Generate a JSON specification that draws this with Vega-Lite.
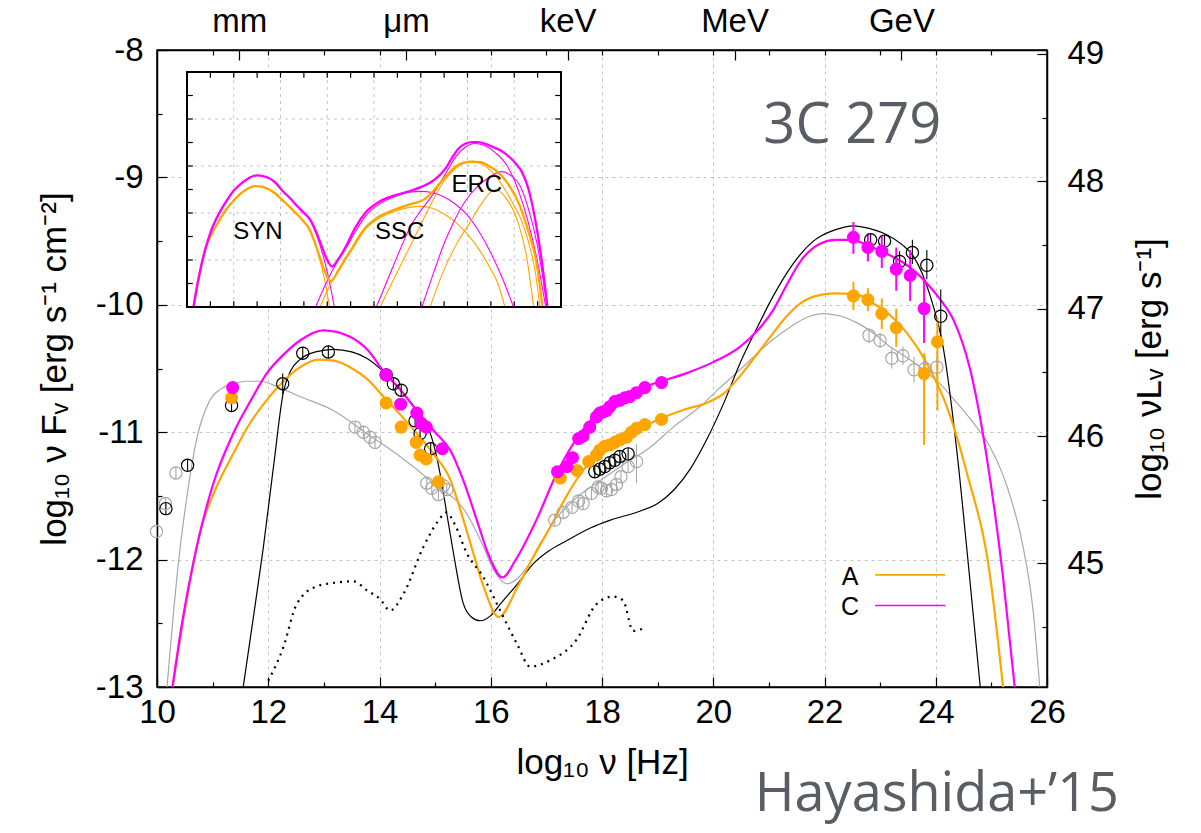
{
  "$schema": "https://vega.github.io/schema/vega-lite/v6.json",
  "width": 890,
  "height": 637,
  "autosize": "none",
  "padding": {"left": 157, "top": 50, "right": 154, "bottom": 146},
  "background": "white",
  "config": {
    "view": {"stroke": "#000", "strokeWidth": 1.5},
    "axis": {
      "labelFont": "Liberation Sans", "labelFontSize": 33, "labelColor": "#000", "labelFlush": false,
      "titleFont": "Liberation Sans", "titleFontSize": 35, "titleFontWeight": "normal", "titleColor": "#000",
      "domainColor": "#000", "domainWidth": 1.5, "tickColor": "#000", "tickWidth": 1.2
    }
  },
  "datasets": {
    "one": [{}],
    "curves": [
      {"model":"low","x":10.18,"y":-13.0},{"model":"low","x":10.3,"y":-12.4},{"model":"low","x":10.41,"y":-11.93},{"model":"low","x":10.53,"y":-11.53},{"model":"low","x":10.71,"y":-11.06},{"model":"low","x":10.95,"y":-10.75},{"model":"low","x":11.15,"y":-10.66},{"model":"low","x":11.37,"y":-10.62},{"model":"low","x":11.6,"y":-10.6},{"model":"low","x":11.85,"y":-10.6},{"model":"low","x":12.2,"y":-10.65},{"model":"low","x":12.57,"y":-10.72},{"model":"low","x":13.17,"y":-10.83},{"model":"low","x":13.77,"y":-11.01},{"model":"low","x":14.37,"y":-11.19},{"model":"low","x":14.97,"y":-11.4},{"model":"low","x":15.57,"y":-11.64},{"model":"low","x":15.87,"y":-11.9},{"model":"low","x":16.05,"y":-12.08},{"model":"low","x":16.29,"y":-12.19},{"model":"low","x":16.5,"y":-12.14},{"model":"low","x":16.77,"y":-11.98},{"model":"low","x":17.1,"y":-11.72},{"model":"low","x":17.5,"y":-11.53},{"model":"low","x":17.97,"y":-11.38},{"model":"low","x":18.4,"y":-11.25},{"model":"low","x":18.86,"y":-11.12},{"model":"low","x":19.28,"y":-10.96},{"model":"low","x":19.76,"y":-10.8},{"model":"low","x":20.1,"y":-10.66},{"model":"low","x":20.48,"y":-10.51},{"model":"low","x":21.08,"y":-10.27},{"model":"low","x":21.4,"y":-10.17},{"model":"low","x":21.68,"y":-10.1},{"model":"low","x":21.98,"y":-10.07},{"model":"low","x":22.3,"y":-10.09},{"model":"low","x":22.58,"y":-10.14},{"model":"low","x":22.9,"y":-10.23},{"model":"low","x":23.18,"y":-10.33},{"model":"low","x":23.5,"y":-10.42},{"model":"low","x":23.78,"y":-10.51},{"model":"low","x":24.1,"y":-10.63},{"model":"low","x":24.38,"y":-10.77},{"model":"low","x":24.7,"y":-10.94},{"model":"low","x":24.97,"y":-11.11},{"model":"low","x":25.3,"y":-11.45},{"model":"low","x":25.57,"y":-11.9},{"model":"low","x":25.75,"y":-12.4},{"model":"low","x":25.87,"y":-13.0},

      {"model":"high","x":11.55,"y":-13.0},{"model":"high","x":11.75,"y":-12.4},{"model":"high","x":11.91,"y":-11.91},{"model":"high","x":12.1,"y":-11.25},{"model":"high","x":12.27,"y":-10.69},{"model":"high","x":12.4,"y":-10.52},{"model":"high","x":12.57,"y":-10.43},{"model":"high","x":12.85,"y":-10.37},{"model":"high","x":13.17,"y":-10.35},{"model":"high","x":13.5,"y":-10.37},{"model":"high","x":13.77,"y":-10.42},{"model":"high","x":14.13,"y":-10.55},{"model":"high","x":14.4,"y":-10.68},{"model":"high","x":14.67,"y":-10.83},{"model":"high","x":14.97,"y":-11.09},{"model":"high","x":15.1,"y":-11.35},{"model":"high","x":15.21,"y":-11.64},{"model":"high","x":15.33,"y":-11.95},{"model":"high","x":15.51,"y":-12.35},{"model":"high","x":15.65,"y":-12.45},{"model":"high","x":15.81,"y":-12.48},{"model":"high","x":16.0,"y":-12.44},{"model":"high","x":16.17,"y":-12.35},{"model":"high","x":16.5,"y":-12.18},{"model":"high","x":16.77,"y":-12.03},{"model":"high","x":17.05,"y":-11.93},{"model":"high","x":17.37,"y":-11.85},{"model":"high","x":17.8,"y":-11.75},{"model":"high","x":18.15,"y":-11.69},{"model":"high","x":18.68,"y":-11.62},{"model":"high","x":19.0,"y":-11.56},{"model":"high","x":19.3,"y":-11.45},{"model":"high","x":19.6,"y":-11.28},{"model":"high","x":19.88,"y":-11.06},{"model":"high","x":20.2,"y":-10.76},{"model":"high","x":20.48,"y":-10.46},{"model":"high","x":20.8,"y":-10.17},{"model":"high","x":21.08,"y":-9.93},{"model":"high","x":21.4,"y":-9.7},{"model":"high","x":21.8,"y":-9.5},{"model":"high","x":22.2,"y":-9.41},{"model":"high","x":22.52,"y":-9.38},{"model":"high","x":22.8,"y":-9.4},{"model":"high","x":23.12,"y":-9.45},{"model":"high","x":23.4,"y":-9.53},{"model":"high","x":23.6,"y":-9.62},{"model":"high","x":23.9,"y":-9.93},{"model":"high","x":24.14,"y":-10.35},{"model":"high","x":24.38,"y":-11.15},{"model":"high","x":24.6,"y":-12.1},{"model":"high","x":24.8,"y":-13.0},

      {"model":"A","x":10.28,"y":-13.0},{"model":"A","x":10.5,"y":-12.4},{"model":"A","x":10.77,"y":-11.79},{"model":"A","x":11.05,"y":-11.45},{"model":"A","x":11.37,"y":-11.17},{"model":"A","x":11.67,"y":-10.93},{"model":"A","x":11.97,"y":-10.75},{"model":"A","x":12.27,"y":-10.6},{"model":"A","x":12.57,"y":-10.49},{"model":"A","x":12.9,"y":-10.43},{"model":"A","x":13.2,"y":-10.44},{"model":"A","x":13.47,"y":-10.49},{"model":"A","x":13.77,"y":-10.58},{"model":"A","x":14.07,"y":-10.72},{"model":"A","x":14.37,"y":-10.86},{"model":"A","x":14.67,"y":-11.01},{"model":"A","x":14.97,"y":-11.17},{"model":"A","x":15.27,"y":-11.37},{"model":"A","x":15.51,"y":-11.69},{"model":"A","x":15.7,"y":-11.97},{"model":"A","x":15.87,"y":-12.21},{"model":"A","x":16.14,"y":-12.45},{"model":"A","x":16.5,"y":-12.2},{"model":"A","x":16.8,"y":-11.95},{"model":"A","x":17.1,"y":-11.72},{"model":"A","x":17.3,"y":-11.55},{"model":"A","x":17.66,"y":-11.3},{"model":"A","x":18.0,"y":-11.15},{"model":"A","x":18.26,"y":-11.06},{"model":"A","x":18.68,"y":-10.97},{"model":"A","x":19.07,"y":-10.89},{"model":"A","x":19.5,"y":-10.82},{"model":"A","x":19.88,"y":-10.77},{"model":"A","x":20.18,"y":-10.7},{"model":"A","x":20.48,"y":-10.56},{"model":"A","x":20.8,"y":-10.38},{"model":"A","x":21.08,"y":-10.22},{"model":"A","x":21.3,"y":-10.1},{"model":"A","x":21.56,"y":-9.99},{"model":"A","x":21.85,"y":-9.93},{"model":"A","x":22.16,"y":-9.91},{"model":"A","x":22.58,"y":-9.92},{"model":"A","x":22.88,"y":-9.99},{"model":"A","x":23.2,"y":-10.09},{"model":"A","x":23.48,"y":-10.22},{"model":"A","x":23.84,"y":-10.46},{"model":"A","x":24.2,"y":-10.8},{"model":"A","x":24.56,"y":-11.32},{"model":"A","x":24.97,"y":-12.11},{"model":"A","x":25.21,"y":-13.0},

      {"model":"C","x":10.28,"y":-13.0},{"model":"C","x":10.45,"y":-12.5},{"model":"C","x":10.71,"y":-11.91},{"model":"C","x":11.0,"y":-11.42},{"model":"C","x":11.37,"y":-11.01},{"model":"C","x":11.7,"y":-10.74},{"model":"C","x":11.97,"y":-10.54},{"model":"C","x":12.3,"y":-10.38},{"model":"C","x":12.57,"y":-10.28},{"model":"C","x":12.99,"y":-10.2},{"model":"C","x":13.47,"y":-10.25},{"model":"C","x":13.8,"y":-10.36},{"model":"C","x":14.07,"y":-10.52},{"model":"C","x":14.4,"y":-10.68},{"model":"C","x":14.67,"y":-10.83},{"model":"C","x":15.0,"y":-11.0},{"model":"C","x":15.27,"y":-11.14},{"model":"C","x":15.5,"y":-11.37},{"model":"C","x":15.75,"y":-11.69},{"model":"C","x":15.95,"y":-11.95},{"model":"C","x":16.21,"y":-12.14},{"model":"C","x":16.45,"y":-12.0},{"model":"C","x":16.82,"y":-11.69},{"model":"C","x":17.19,"y":-11.32},{"model":"C","x":17.66,"y":-10.98},{"model":"C","x":18.26,"y":-10.75},{"model":"C","x":18.86,"y":-10.63},{"model":"C","x":19.5,"y":-10.54},{"model":"C","x":20.0,"y":-10.45},{"model":"C","x":20.48,"y":-10.33},{"model":"C","x":20.8,"y":-10.2},{"model":"C","x":21.08,"y":-10.04},{"model":"C","x":21.3,"y":-9.86},{"model":"C","x":21.6,"y":-9.64},{"model":"C","x":21.92,"y":-9.52},{"model":"C","x":22.2,"y":-9.49},{"model":"C","x":22.46,"y":-9.49},{"model":"C","x":22.82,"y":-9.54},{"model":"C","x":23.12,"y":-9.6},{"model":"C","x":23.42,"y":-9.67},{"model":"C","x":23.84,"y":-9.83},{"model":"C","x":24.1,"y":-9.97},{"model":"C","x":24.32,"y":-10.12},{"model":"C","x":24.62,"y":-10.51},{"model":"C","x":24.9,"y":-11.15},{"model":"C","x":25.21,"y":-12.14},{"model":"C","x":25.42,"y":-13.0},

      {"model":"dot","x":12.0,"y":-12.95},{"model":"dot","x":12.27,"y":-12.69},{"model":"dot","x":12.51,"y":-12.35},{"model":"dot","x":12.87,"y":-12.21},{"model":"dot","x":13.23,"y":-12.18},{"model":"dot","x":13.53,"y":-12.17},{"model":"dot","x":13.77,"y":-12.24},{"model":"dot","x":14.01,"y":-12.31},{"model":"dot","x":14.19,"y":-12.4},{"model":"dot","x":14.43,"y":-12.27},{"model":"dot","x":14.79,"y":-11.9},{"model":"dot","x":15.05,"y":-11.7},{"model":"dot","x":15.2,"y":-11.63},{"model":"dot","x":15.35,"y":-11.72},{"model":"dot","x":15.57,"y":-11.95},{"model":"dot","x":15.87,"y":-12.14},{"model":"dot","x":16.17,"y":-12.4},{"model":"dot","x":16.47,"y":-12.66},{"model":"dot","x":16.71,"y":-12.84},{"model":"dot","x":17.07,"y":-12.79},{"model":"dot","x":17.54,"y":-12.63},{"model":"dot","x":17.9,"y":-12.35},{"model":"dot","x":18.2,"y":-12.29},{"model":"dot","x":18.38,"y":-12.32},{"model":"dot","x":18.56,"y":-12.56},{"model":"dot","x":18.8,"y":-12.53}
    ],
    "comps": [
      {"comp":"SYN_A","model":"A","x":10.28,"y":-13.0},{"comp":"SYN_A","model":"A","x":10.5,"y":-12.4},{"comp":"SYN_A","model":"A","x":10.77,"y":-11.79},{"comp":"SYN_A","model":"A","x":11.05,"y":-11.45},{"comp":"SYN_A","model":"A","x":11.37,"y":-11.17},{"comp":"SYN_A","model":"A","x":11.97,"y":-10.75},{"comp":"SYN_A","model":"A","x":12.57,"y":-10.49},{"comp":"SYN_A","model":"A","x":12.9,"y":-10.43},{"comp":"SYN_A","model":"A","x":13.47,"y":-10.49},{"comp":"SYN_A","model":"A","x":14.07,"y":-10.72},{"comp":"SYN_A","model":"A","x":14.67,"y":-11.01},{"comp":"SYN_A","model":"A","x":15.27,"y":-11.4},{"comp":"SYN_A","model":"A","x":15.6,"y":-11.85},{"comp":"SYN_A","model":"A","x":15.9,"y":-12.45},{"comp":"SYN_A","model":"A","x":16.1,"y":-13.0},
      {"comp":"SYN_C","model":"C","x":10.28,"y":-13.0},{"comp":"SYN_C","model":"C","x":10.45,"y":-12.5},{"comp":"SYN_C","model":"C","x":10.71,"y":-11.91},{"comp":"SYN_C","model":"C","x":11.0,"y":-11.42},{"comp":"SYN_C","model":"C","x":11.37,"y":-11.01},{"comp":"SYN_C","model":"C","x":11.97,"y":-10.54},{"comp":"SYN_C","model":"C","x":12.57,"y":-10.28},{"comp":"SYN_C","model":"C","x":12.99,"y":-10.2},{"comp":"SYN_C","model":"C","x":13.47,"y":-10.25},{"comp":"SYN_C","model":"C","x":14.07,"y":-10.52},{"comp":"SYN_C","model":"C","x":14.67,"y":-10.83},{"comp":"SYN_C","model":"C","x":15.27,"y":-11.16},{"comp":"SYN_C","model":"C","x":15.6,"y":-11.55},{"comp":"SYN_C","model":"C","x":15.9,"y":-12.05},{"comp":"SYN_C","model":"C","x":16.15,"y":-12.6},{"comp":"SYN_C","model":"C","x":16.3,"y":-13.0},
      {"comp":"SSC_A","model":"A","x":15.7,"y":-13.0},{"comp":"SSC_A","model":"A","x":16.1,"y":-12.55},{"comp":"SSC_A","model":"A","x":16.5,"y":-12.22},{"comp":"SSC_A","model":"A","x":17.1,"y":-11.75},{"comp":"SSC_A","model":"A","x":17.66,"y":-11.33},{"comp":"SSC_A","model":"A","x":18.26,"y":-11.1},{"comp":"SSC_A","model":"A","x":18.9,"y":-10.96},{"comp":"SSC_A","model":"A","x":19.5,"y":-10.88},{"comp":"SSC_A","model":"A","x":20.0,"y":-10.86},{"comp":"SSC_A","model":"A","x":20.5,"y":-10.9},{"comp":"SSC_A","model":"A","x":21.0,"y":-11.02},{"comp":"SSC_A","model":"A","x":21.5,"y":-11.2},{"comp":"SSC_A","model":"A","x":22.0,"y":-11.45},{"comp":"SSC_A","model":"A","x":22.5,"y":-11.78},{"comp":"SSC_A","model":"A","x":23.0,"y":-12.2},{"comp":"SSC_A","model":"A","x":23.3,"y":-12.5},{"comp":"SSC_A","model":"A","x":23.6,"y":-13.0},
      {"comp":"SSC_C","model":"C","x":15.5,"y":-13.0},{"comp":"SSC_C","model":"C","x":15.9,"y":-12.55},{"comp":"SSC_C","model":"C","x":16.3,"y":-12.15},{"comp":"SSC_C","model":"C","x":16.8,"y":-11.75},{"comp":"SSC_C","model":"C","x":17.2,"y":-11.4},{"comp":"SSC_C","model":"C","x":17.66,"y":-11.05},{"comp":"SSC_C","model":"C","x":18.26,"y":-10.8},{"comp":"SSC_C","model":"C","x":18.9,"y":-10.65},{"comp":"SSC_C","model":"C","x":19.5,"y":-10.56},{"comp":"SSC_C","model":"C","x":20.0,"y":-10.54},{"comp":"SSC_C","model":"C","x":20.5,"y":-10.57},{"comp":"SSC_C","model":"C","x":21.0,"y":-10.66},{"comp":"SSC_C","model":"C","x":21.5,"y":-10.82},{"comp":"SSC_C","model":"C","x":22.0,"y":-11.05},{"comp":"SSC_C","model":"C","x":22.5,"y":-11.4},{"comp":"SSC_C","model":"C","x":23.0,"y":-11.85},{"comp":"SSC_C","model":"C","x":23.5,"y":-12.4},{"comp":"SSC_C","model":"C","x":23.97,"y":-13.0},
      {"comp":"ERC1_A","model":"A","x":18.26,"y":-13.0},{"comp":"ERC1_A","model":"A","x":18.8,"y":-12.45},{"comp":"ERC1_A","model":"A","x":19.3,"y":-11.95},{"comp":"ERC1_A","model":"A","x":19.9,"y":-11.35},{"comp":"ERC1_A","model":"A","x":20.5,"y":-10.75},{"comp":"ERC1_A","model":"A","x":21.0,"y":-10.32},{"comp":"ERC1_A","model":"A","x":21.5,"y":-10.05},{"comp":"ERC1_A","model":"A","x":22.19,"y":-9.9},{"comp":"ERC1_A","model":"A","x":22.6,"y":-9.95},{"comp":"ERC1_A","model":"A","x":23.1,"y":-10.15},{"comp":"ERC1_A","model":"A","x":23.6,"y":-10.5},{"comp":"ERC1_A","model":"A","x":24.0,"y":-10.85},{"comp":"ERC1_A","model":"A","x":24.3,"y":-11.15},{"comp":"ERC1_A","model":"A","x":24.6,"y":-11.6},{"comp":"ERC1_A","model":"A","x":24.9,"y":-12.25},{"comp":"ERC1_A","model":"A","x":25.1,"y":-13.0},
      {"comp":"ERC2_A","model":"A","x":20.4,"y":-13.0},{"comp":"ERC2_A","model":"A","x":21.0,"y":-12.2},{"comp":"ERC2_A","model":"A","x":21.6,"y":-11.6},{"comp":"ERC2_A","model":"A","x":22.11,"y":-11.2},{"comp":"ERC2_A","model":"A","x":22.6,"y":-10.8},{"comp":"ERC2_A","model":"A","x":23.18,"y":-10.5},{"comp":"ERC2_A","model":"A","x":23.6,"y":-10.65},{"comp":"ERC2_A","model":"A","x":24.12,"y":-11.14},{"comp":"ERC2_A","model":"A","x":24.5,"y":-11.85},{"comp":"ERC2_A","model":"A","x":24.83,"y":-13.0},
      {"comp":"ERC1_C","model":"C","x":18.1,"y":-13.0},{"comp":"ERC1_C","model":"C","x":18.6,"y":-12.4},{"comp":"ERC1_C","model":"C","x":19.1,"y":-11.8},{"comp":"ERC1_C","model":"C","x":19.6,"y":-11.25},{"comp":"ERC1_C","model":"C","x":20.0,"y":-10.95},{"comp":"ERC1_C","model":"C","x":20.5,"y":-10.62},{"comp":"ERC1_C","model":"C","x":21.08,"y":-10.15},{"comp":"ERC1_C","model":"C","x":21.5,"y":-9.8},{"comp":"ERC1_C","model":"C","x":21.9,"y":-9.6},{"comp":"ERC1_C","model":"C","x":22.3,"y":-9.52},{"comp":"ERC1_C","model":"C","x":22.7,"y":-9.56},{"comp":"ERC1_C","model":"C","x":23.2,"y":-9.72},{"comp":"ERC1_C","model":"C","x":23.7,"y":-10.0},{"comp":"ERC1_C","model":"C","x":24.2,"y":-10.55},{"comp":"ERC1_C","model":"C","x":24.6,"y":-11.2},{"comp":"ERC1_C","model":"C","x":25.0,"y":-12.05},{"comp":"ERC1_C","model":"C","x":25.35,"y":-13.0},
      {"comp":"ERC2_C","model":"C","x":20.05,"y":-13.0},{"comp":"ERC2_C","model":"C","x":20.6,"y":-12.2},{"comp":"ERC2_C","model":"C","x":21.0,"y":-11.65},{"comp":"ERC2_C","model":"C","x":21.4,"y":-11.2},{"comp":"ERC2_C","model":"C","x":21.9,"y":-10.75},{"comp":"ERC2_C","model":"C","x":22.4,"y":-10.45},{"comp":"ERC2_C","model":"C","x":22.9,"y":-10.25},{"comp":"ERC2_C","model":"C","x":23.47,"y":-10.12},{"comp":"ERC2_C","model":"C","x":23.9,"y":-10.22},{"comp":"ERC2_C","model":"C","x":24.26,"y":-10.43},{"comp":"ERC2_C","model":"C","x":24.6,"y":-10.9},{"comp":"ERC2_C","model":"C","x":24.97,"y":-11.64},{"comp":"ERC2_C","model":"C","x":25.2,"y":-12.3},{"comp":"ERC2_C","model":"C","x":25.4,"y":-13.0}
    ],
    "pts": [
      {"set":"low","x":9.99,"y":-11.78,"lo":-11.83,"hi":-11.73},{"set":"low","x":10.15,"y":-11.56,"lo":-11.61,"hi":-11.51},{"set":"low","x":10.34,"y":-11.32,"lo":-11.37,"hi":-11.27},
      {"set":"low","x":13.56,"y":-10.96,"lo":-11.01,"hi":-10.91},{"set":"low","x":13.71,"y":-11.0,"lo":-11.05,"hi":-10.95},{"set":"low","x":13.83,"y":-11.04,"lo":-11.09,"hi":-10.99},{"set":"low","x":13.92,"y":-11.08,"lo":-11.13,"hi":-11.03},
      {"set":"low","x":14.85,"y":-11.4,"lo":-11.45,"hi":-11.35},{"set":"low","x":14.94,"y":-11.44,"lo":-11.49,"hi":-11.39},{"set":"low","x":15.06,"y":-11.49,"lo":-11.54,"hi":-11.44},{"set":"low","x":15.15,"y":-11.42,"lo":-11.47,"hi":-11.37},{"set":"low","x":15.21,"y":-11.45,"lo":-11.5,"hi":-11.4},
      {"set":"low","x":17.15,"y":-11.69,"lo":-11.74,"hi":-11.64},{"set":"low","x":17.3,"y":-11.63,"lo":-11.68,"hi":-11.58},{"set":"low","x":17.46,"y":-11.59,"lo":-11.64,"hi":-11.54},{"set":"low","x":17.58,"y":-11.54,"lo":-11.59,"hi":-11.49},{"set":"low","x":17.66,"y":-11.56,"lo":-11.61,"hi":-11.51},{"set":"low","x":17.81,"y":-11.48,"lo":-11.53,"hi":-11.43},{"set":"low","x":17.93,"y":-11.43,"lo":-11.48,"hi":-11.38},{"set":"low","x":17.99,"y":-11.44,"lo":-11.49,"hi":-11.39},{"set":"low","x":18.08,"y":-11.46,"lo":-11.51,"hi":-11.41},{"set":"low","x":18.17,"y":-11.45,"lo":-11.5,"hi":-11.4},{"set":"low","x":18.26,"y":-11.41,"lo":-11.46,"hi":-11.36},{"set":"low","x":18.34,"y":-11.35,"lo":-11.4,"hi":-11.3},{"set":"low","x":18.47,"y":-11.27,"lo":-11.32,"hi":-11.22},{"set":"low","x":18.62,"y":-11.23,"lo":-11.4,"hi":-11.09},
      {"set":"low","x":22.8,"y":-10.24,"lo":-10.3,"hi":-10.18},{"set":"low","x":23.0,"y":-10.28,"lo":-10.34,"hi":-10.22},{"set":"low","x":23.21,"y":-10.42,"lo":-10.5,"hi":-10.34},{"set":"low","x":23.41,"y":-10.4,"lo":-10.47,"hi":-10.33},{"set":"low","x":23.61,"y":-10.51,"lo":-10.61,"hi":-10.41},{"set":"low","x":23.81,"y":-10.5,"lo":-10.6,"hi":-10.4},{"set":"low","x":24.02,"y":-10.49,"lo":-10.58,"hi":-10.4},

      {"set":"high","x":10.16,"y":-11.6,"lo":-11.65,"hi":-11.55},{"set":"high","x":10.55,"y":-11.26,"lo":-11.31,"hi":-11.21},{"set":"high","x":11.34,"y":-10.79,"lo":-10.84,"hi":-10.74},{"set":"high","x":12.26,"y":-10.62,"lo":-10.7,"hi":-10.54},{"set":"high","x":12.62,"y":-10.38,"lo":-10.43,"hi":-10.33},{"set":"high","x":13.08,"y":-10.37,"lo":-10.42,"hi":-10.32},
      {"set":"high","x":14.12,"y":-10.55,"lo":-10.6,"hi":-10.5},{"set":"high","x":14.25,"y":-10.62,"lo":-10.67,"hi":-10.57},{"set":"high","x":14.39,"y":-10.67,"lo":-10.72,"hi":-10.62},{"set":"high","x":14.64,"y":-10.91,"lo":-10.96,"hi":-10.86},{"set":"high","x":14.73,"y":-11.01,"lo":-11.06,"hi":-10.96},{"set":"high","x":14.92,"y":-11.13,"lo":-11.18,"hi":-11.08},
      {"set":"high","x":17.87,"y":-11.31,"lo":-11.36,"hi":-11.26},{"set":"high","x":17.96,"y":-11.29,"lo":-11.34,"hi":-11.24},{"set":"high","x":18.05,"y":-11.27,"lo":-11.32,"hi":-11.22},{"set":"high","x":18.14,"y":-11.24,"lo":-11.29,"hi":-11.19},{"set":"high","x":18.23,"y":-11.22,"lo":-11.27,"hi":-11.17},{"set":"high","x":18.32,"y":-11.19,"lo":-11.24,"hi":-11.14},{"set":"high","x":18.47,"y":-11.17,"lo":-11.22,"hi":-11.12},
      {"set":"high","x":22.83,"y":-9.49,"lo":-9.54,"hi":-9.44},{"set":"high","x":23.08,"y":-9.5,"lo":-9.55,"hi":-9.45},{"set":"high","x":23.35,"y":-9.66,"lo":-9.73,"hi":-9.58},{"set":"high","x":23.58,"y":-9.59,"lo":-9.68,"hi":-9.49},{"set":"high","x":23.84,"y":-9.69,"lo":-9.8,"hi":-9.57},{"set":"high","x":24.09,"y":-10.09,"lo":-10.3,"hi":-9.88},

      {"set":"A","x":11.34,"y":-10.73,"lo":-10.73,"hi":-10.73},{"set":"A","x":14.12,"y":-10.77,"lo":-10.77,"hi":-10.77},{"set":"A","x":14.39,"y":-10.96,"lo":-10.96,"hi":-10.96},{"set":"A","x":14.66,"y":-11.08,"lo":-11.08,"hi":-11.08},{"set":"A","x":14.73,"y":-11.18,"lo":-11.18,"hi":-11.18},{"set":"A","x":14.84,"y":-11.21,"lo":-11.21,"hi":-11.21},{"set":"A","x":15.06,"y":-11.39,"lo":-11.39,"hi":-11.39},
      {"set":"A","x":17.25,"y":-11.36,"lo":-11.36,"hi":-11.36},{"set":"A","x":17.55,"y":-11.3,"lo":-11.3,"hi":-11.3},{"set":"A","x":17.76,"y":-11.23,"lo":-11.23,"hi":-11.23},{"set":"A","x":17.9,"y":-11.18,"lo":-11.18,"hi":-11.18},{"set":"A","x":17.96,"y":-11.14,"lo":-11.14,"hi":-11.14},{"set":"A","x":18.05,"y":-11.11,"lo":-11.11,"hi":-11.11},{"set":"A","x":18.14,"y":-11.1,"lo":-11.1,"hi":-11.1},{"set":"A","x":18.23,"y":-11.08,"lo":-11.08,"hi":-11.08},{"set":"A","x":18.32,"y":-11.06,"lo":-11.06,"hi":-11.06},{"set":"A","x":18.44,"y":-11.04,"lo":-11.04,"hi":-11.04},{"set":"A","x":18.53,"y":-11.0,"lo":-11.0,"hi":-11.0},{"set":"A","x":18.62,"y":-10.97,"lo":-10.97,"hi":-10.97},{"set":"A","x":18.77,"y":-10.94,"lo":-10.94,"hi":-10.94},{"set":"A","x":19.07,"y":-10.9,"lo":-10.9,"hi":-10.9},
      {"set":"A","x":22.52,"y":-9.93,"lo":-10.04,"hi":-9.82},{"set":"A","x":22.78,"y":-9.96,"lo":-10.05,"hi":-9.87},{"set":"A","x":23.03,"y":-10.07,"lo":-10.19,"hi":-9.95},{"set":"A","x":23.29,"y":-10.18,"lo":-10.33,"hi":-10.03},{"set":"A","x":23.79,"y":-10.54,"lo":-11.1,"hi":-10.38},{"set":"A","x":24.03,"y":-10.29,"lo":-10.83,"hi":-10.1},

      {"set":"C","x":11.36,"y":-10.65,"lo":-10.65,"hi":-10.65},{"set":"C","x":14.12,"y":-10.55,"lo":-10.55,"hi":-10.55},{"set":"C","x":14.38,"y":-10.78,"lo":-10.78,"hi":-10.78},{"set":"C","x":14.67,"y":-10.85,"lo":-10.85,"hi":-10.85},{"set":"C","x":14.75,"y":-10.93,"lo":-10.93,"hi":-10.93},{"set":"C","x":14.84,"y":-10.96,"lo":-10.96,"hi":-10.96},{"set":"C","x":15.13,"y":-11.13,"lo":-11.13,"hi":-11.13},
      {"set":"C","x":17.2,"y":-11.31,"lo":-11.31,"hi":-11.31},{"set":"C","x":17.37,"y":-11.27,"lo":-11.27,"hi":-11.27},{"set":"C","x":17.47,"y":-11.2,"lo":-11.2,"hi":-11.2},{"set":"C","x":17.58,"y":-11.05,"lo":-11.05,"hi":-11.05},{"set":"C","x":17.66,"y":-11.03,"lo":-11.03,"hi":-11.03},{"set":"C","x":17.78,"y":-10.96,"lo":-10.96,"hi":-10.96},{"set":"C","x":17.9,"y":-10.88,"lo":-10.88,"hi":-10.88},{"set":"C","x":17.96,"y":-10.85,"lo":-10.85,"hi":-10.85},{"set":"C","x":18.02,"y":-10.84,"lo":-10.84,"hi":-10.84},{"set":"C","x":18.08,"y":-10.83,"lo":-10.83,"hi":-10.83},{"set":"C","x":18.14,"y":-10.8,"lo":-10.8,"hi":-10.8},{"set":"C","x":18.23,"y":-10.76,"lo":-10.76,"hi":-10.76},{"set":"C","x":18.32,"y":-10.75,"lo":-10.75,"hi":-10.75},{"set":"C","x":18.41,"y":-10.73,"lo":-10.73,"hi":-10.73},{"set":"C","x":18.5,"y":-10.72,"lo":-10.72,"hi":-10.72},{"set":"C","x":18.62,"y":-10.69,"lo":-10.69,"hi":-10.69},{"set":"C","x":18.77,"y":-10.65,"lo":-10.65,"hi":-10.65},{"set":"C","x":19.07,"y":-10.61,"lo":-10.61,"hi":-10.61},
      {"set":"C","x":22.52,"y":-9.47,"lo":-9.6,"hi":-9.35},{"set":"C","x":22.78,"y":-9.55,"lo":-9.66,"hi":-9.44},{"set":"C","x":23.03,"y":-9.58,"lo":-9.71,"hi":-9.45},{"set":"C","x":23.29,"y":-9.72,"lo":-9.89,"hi":-9.55},{"set":"C","x":23.54,"y":-9.77,"lo":-9.97,"hi":-9.57},{"set":"C","x":23.79,"y":-10.03,"lo":-10.3,"hi":-9.79}
    ],
    "gridX": [{"v":12},{"v":14},{"v":16},{"v":18},{"v":20},{"v":22},{"v":24}],
    "gridY": [{"v":-12},{"v":-11},{"v":-10},{"v":-9}],
    "tickX": [{"v":11},{"v":12},{"v":13},{"v":14},{"v":15},{"v":16},{"v":17},{"v":18},{"v":19},{"v":20},{"v":21},{"v":22},{"v":23},{"v":24},{"v":25}],
    "tickY": [{"v":-12.5},{"v":-12},{"v":-11.5},{"v":-11},{"v":-10.5},{"v":-10},{"v":-9.5},{"v":-9},{"v":-8.5}],
    "labels": [{"label":"SYN","x":13.03,"y":-11.4},{"label":"SSC","x":19.1,"y":-11.4},{"label":"ERC","x":22.4,"y":-10.41}]
  },
  "layer": [
    {
      "resolve": {"axis": {"x": "independent", "y": "independent"}},
      "layer": [
        {
          "data": {"name": "curves"},
          "transform": [{"filter": "datum.model == 'low' || datum.model == 'high'"}],
          "mark": {"type": "line", "strokeWidth": 1.2, "clip": true, "interpolate": "monotone"},
          "encoding": {
            "x": {"field": "x", "type": "quantitative", "scale": {"domain": [10, 26], "nice": false, "zero": false},
              "axis": {"orient": "bottom", "values": [10,12,14,16,18,20,22,24,26], "tickSize": -10, "labelPadding": 19,
                "grid": true, "gridDash": [3,4], "gridColor": "#c4c4c4", "gridWidth": 1,
                "gridOpacity": {"condition": {"test": "datum.value <= 10 || datum.value >= 26", "value": 0}, "value": 1},
                "title": "log₁₀ ν [Hz]", "titlePadding": 16}},
            "y": {"field": "y", "type": "quantitative", "scale": {"domain": [-13, -8], "nice": false, "zero": false},
              "axis": {"orient": "left", "values": [-13,-12,-11,-10,-9,-8], "tickSize": -10, "labelPadding": 24,
                "labelExpr": "'-' + abs(datum.value)",
                "grid": true, "gridDash": [3,4], "gridColor": "#c4c4c4", "gridWidth": 1,
                "gridOpacity": {"condition": {"test": "datum.value <= -13 || datum.value >= -8", "value": 0}, "value": 1},
                "title": "log₁₀ ν  Fᵥ  [erg  s⁻¹  cm⁻²]", "titlePadding": 23}},
            "color": {"field": "model", "type": "nominal", "scale": {"domain": ["low","high","A","C","dot"], "range": ["#a8a8a8","#000000","#ffa500","#ff00ff","#000000"]}, "legend": null}
          }
        },
        {
          "data": {"name": "curves"},
          "transform": [{"filter": "datum.model == 'A' || datum.model == 'C'"}],
          "mark": {"type": "line", "strokeWidth": 2.2, "clip": true, "interpolate": "monotone"},
          "encoding": {
            "x": {"field": "x", "type": "quantitative", "scale": {"domain": [10, 26], "nice": false, "zero": false},
              "axis": {"orient": "top", "values": [11.477,14.477,17.383,20.383,23.383], "tickSize": -10, "labelPadding": 22, "grid": false, "domain": true,
                "labelExpr": "datum.value < 13 ? 'mm' : datum.value < 16 ? 'μm' : datum.value < 19 ? 'keV' : datum.value < 22 ? 'MeV' : 'GeV'", "title": null}},
            "y": {"field": "y", "type": "quantitative", "scale": {"domain": [-13, -8], "nice": false, "zero": false},
              "axis": {"orient": "right", "values": [-8.03,-9.03,-10.03,-11.03,-12.03], "tickSize": -10, "labelPadding": 30, "grid": false,
                "labelExpr": "format(datum.value + 57.03, '.0f')", "title": "log₁₀ νLᵥ [erg s⁻¹]", "titleAngle": 270, "titlePadding": 64}},
            "color": {"field": "model", "type": "nominal", "scale": {"domain": ["low","high","A","C","dot"], "range": ["#a8a8a8","#000000","#ffa500","#ff00ff","#000000"]}, "legend": null}
          }
        },
        {
          "data": {"name": "curves"},
          "transform": [{"filter": "datum.model == 'dot'"}],
          "mark": {"type": "line", "strokeWidth": 2.2, "strokeDash": [2, 5], "color": "#000", "clip": true, "interpolate": "monotone"},
          "encoding": {
            "x": {"field": "x", "type": "quantitative", "scale": {"domain": [10, 26], "nice": false, "zero": false},
              "axis": {"orient": "bottom", "values": [11,13,15,17,19,21,23,25], "tickSize": -5, "labels": false, "domain": false, "grid": false, "title": null}},
            "y": {"field": "y", "type": "quantitative", "scale": {"domain": [-13, -8], "nice": false, "zero": false},
              "axis": {"orient": "left", "values": [-12.5,-11.5,-10.5,-9.5,-8.5], "tickSize": -5, "labels": false, "domain": false, "grid": false, "title": null}}
          }
        },
        {
          "data": {"name": "pts"},
          "transform": [{"filter": "datum.set == 'low' || datum.set == 'high'"}],
          "mark": {"type": "rule", "strokeWidth": 1.1},
          "encoding": {
            "x": {"field": "x", "type": "quantitative", "scale": {"domain": [10, 26], "nice": false, "zero": false},
              "axis": {"orient": "top", "values": [11,12,13,14,15,16,17,18,19,20,21,22,23,24,25], "tickSize": -5, "labels": false, "domain": false, "grid": false, "title": null}},
            "y": {"field": "lo", "type": "quantitative", "scale": {"domain": [-13, -8], "nice": false, "zero": false},
              "axis": {"orient": "right", "values": [-8.53,-9.53,-10.53,-11.53,-12.53], "tickSize": -5, "labels": false, "domain": false, "grid": false, "title": null}},
            "y2": {"field": "hi"},
            "color": {"field": "set", "type": "nominal", "scale": {"domain": ["low","high","A","C","dot"], "range": ["#a8a8a8","#000000","#ffa500","#ff00ff","#000000"]}, "legend": null}
          }
        },
        {
          "data": {"name": "pts"},
          "transform": [{"filter": "datum.set == 'A' || datum.set == 'C'"}],
          "mark": {"type": "rule", "strokeWidth": 2},
          "encoding": {
            "x": {"field": "x", "type": "quantitative", "scale": {"domain": [10, 26], "nice": false, "zero": false}, "axis": null},
            "y": {"field": "lo", "type": "quantitative", "scale": {"domain": [-13, -8], "nice": false, "zero": false}, "axis": null},
            "y2": {"field": "hi"},
            "color": {"field": "set", "type": "nominal", "scale": {"domain": ["low","high","A","C","dot"], "range": ["#a8a8a8","#000000","#ffa500","#ff00ff","#000000"]}, "legend": null}
          }
        },
        {
          "data": {"name": "pts"},
          "transform": [{"filter": "datum.set == 'low' || datum.set == 'high'"}],
          "mark": {"type": "point", "filled": false, "size": 150, "strokeWidth": 1.2, "opacity": 1},
          "encoding": {
            "x": {"field": "x", "type": "quantitative", "scale": {"domain": [10, 26], "nice": false, "zero": false}, "axis": null},
            "y": {"field": "y", "type": "quantitative", "scale": {"domain": [-13, -8], "nice": false, "zero": false}, "axis": null},
            "color": {"field": "set", "type": "nominal", "scale": {"domain": ["low","high","A","C","dot"], "range": ["#a8a8a8","#000000","#ffa500","#ff00ff","#000000"]}, "legend": null}
          }
        },
        {
          "data": {"name": "pts"},
          "transform": [{"filter": "datum.set == 'A' || datum.set == 'C'"}],
          "mark": {"type": "circle", "size": 170, "opacity": 1},
          "encoding": {
            "x": {"field": "x", "type": "quantitative", "scale": {"domain": [10, 26], "nice": false, "zero": false}, "axis": null},
            "y": {"field": "y", "type": "quantitative", "scale": {"domain": [-13, -8], "nice": false, "zero": false}, "axis": null},
            "color": {"field": "set", "type": "nominal", "scale": {"domain": ["low","high","A","C","dot"], "range": ["#a8a8a8","#000000","#ffa500","#ff00ff","#000000"]}, "legend": null}
          }
        },
        {
          "data": {"name": "one"},
          "mark": {"type": "text", "text": "A", "font": "Liberation Sans", "fontSize": 25, "color": "#000", "align": "center", "baseline": "middle"},
          "encoding": {
            "x": {"datum": 22.46, "type": "quantitative", "scale": {"domain": [10, 26], "nice": false, "zero": false}, "axis": null},
            "y": {"datum": -12.14, "type": "quantitative", "scale": {"domain": [-13, -8], "nice": false, "zero": false}, "axis": null}
          }
        },
        {
          "data": {"name": "one"},
          "mark": {"type": "text", "text": "C", "font": "Liberation Sans", "fontSize": 25, "color": "#000", "align": "center", "baseline": "middle"},
          "encoding": {
            "x": {"datum": 22.46, "type": "quantitative", "scale": {"domain": [10, 26], "nice": false, "zero": false}, "axis": null},
            "y": {"datum": -12.37, "type": "quantitative", "scale": {"domain": [-13, -8], "nice": false, "zero": false}, "axis": null}
          }
        },
        {
          "data": {"name": "one"},
          "mark": {"type": "rule", "color": "#ffa500", "strokeWidth": 1.6},
          "encoding": {
            "x": {"datum": 22.91, "type": "quantitative", "scale": {"domain": [10, 26], "nice": false, "zero": false}, "axis": null},
            "x2": {"datum": 24.17},
            "y": {"datum": -12.12, "type": "quantitative", "scale": {"domain": [-13, -8], "nice": false, "zero": false}, "axis": null}
          }
        },
        {
          "data": {"name": "one"},
          "mark": {"type": "rule", "color": "#ff00ff", "strokeWidth": 1.6},
          "encoding": {
            "x": {"datum": 22.91, "type": "quantitative", "scale": {"domain": [10, 26], "nice": false, "zero": false}, "axis": null},
            "x2": {"datum": 24.17},
            "y": {"datum": -12.36, "type": "quantitative", "scale": {"domain": [-13, -8], "nice": false, "zero": false}, "axis": null}
          }
        },
        {
          "data": {"name": "one"},
          "mark": {"type": "text", "text": "3C 279", "font": "Open Sans", "fontSize": 56, "color": "#595e64", "align": "center", "baseline": "middle"},
          "encoding": {
            "x": {"datum": 22.5, "type": "quantitative", "scale": {"domain": [10, 26], "nice": false, "zero": false}, "axis": null},
            "y": {"datum": -8.6, "type": "quantitative", "scale": {"domain": [-13, -8], "nice": false, "zero": false}, "axis": null}
          }
        },
        {
          "data": {"name": "one"},
          "mark": {"type": "text", "text": "Hayashida+’15", "font": "Open Sans", "fontSize": 54, "color": "#595e64", "align": "center", "baseline": "middle"},
          "encoding": {
            "x": {"datum": 24.02, "type": "quantitative", "scale": {"domain": [10, 26], "nice": false, "zero": false}, "axis": null},
            "y": {"datum": -13.85, "type": "quantitative", "scale": {"domain": [-13, -8], "nice": false, "zero": false}, "axis": null}
          }
        }
      ]
    },
    {
      "layer": [
        {
          "data": {"name": "one"},
          "mark": {"type": "rect", "fill": "#fff", "stroke": "#000", "strokeWidth": 2},
          "encoding": {
            "x": {"datum": 10, "type": "quantitative", "scale": {"domain": [10, 26], "range": [30, 404], "nice": false, "zero": false}, "axis": null},
            "x2": {"datum": 26},
            "y": {"datum": -13, "type": "quantitative", "scale": {"domain": [-13, -8], "range": [257, 22], "nice": false, "zero": false}, "axis": null},
            "y2": {"datum": -8}
          }
        },
        {
          "data": {"name": "gridX"},
          "mark": {"type": "rule", "color": "#c4c4c4", "strokeWidth": 1, "strokeDash": [3, 4]},
          "encoding": {
            "x": {"field": "v", "type": "quantitative", "scale": {"domain": [10, 26], "range": [30, 404], "nice": false, "zero": false}, "axis": null},
            "y": {"datum": -13, "type": "quantitative", "scale": {"domain": [-13, -8], "range": [257, 22], "nice": false, "zero": false}, "axis": null},
            "y2": {"datum": -8}
          }
        },
        {
          "data": {"name": "gridY"},
          "mark": {"type": "rule", "color": "#c4c4c4", "strokeWidth": 1, "strokeDash": [3, 4]},
          "encoding": {
            "y": {"field": "v", "type": "quantitative", "scale": {"domain": [-13, -8], "range": [257, 22], "nice": false, "zero": false}, "axis": null},
            "x": {"datum": 10, "type": "quantitative", "scale": {"domain": [10, 26], "range": [30, 404], "nice": false, "zero": false}, "axis": null},
            "x2": {"datum": 26}
          }
        },
        {
          "data": {"name": "tickX"},
          "mark": {"type": "rule", "color": "#000", "strokeWidth": 1.2},
          "encoding": {
            "x": {"field": "v", "type": "quantitative", "scale": {"domain": [10, 26], "range": [30, 404], "nice": false, "zero": false}, "axis": null},
            "y": {"datum": -13, "type": "quantitative", "scale": {"domain": [-13, -8], "range": [257, 22], "nice": false, "zero": false}, "axis": null},
            "y2": {"datum": -12.88}
          }
        },
        {
          "data": {"name": "tickX"},
          "mark": {"type": "rule", "color": "#000", "strokeWidth": 1.2},
          "encoding": {
            "x": {"field": "v", "type": "quantitative", "scale": {"domain": [10, 26], "range": [30, 404], "nice": false, "zero": false}, "axis": null},
            "y": {"datum": -8, "type": "quantitative", "scale": {"domain": [-13, -8], "range": [257, 22], "nice": false, "zero": false}, "axis": null},
            "y2": {"datum": -8.12}
          }
        },
        {
          "data": {"name": "tickY"},
          "mark": {"type": "rule", "color": "#000", "strokeWidth": 1.2},
          "encoding": {
            "y": {"field": "v", "type": "quantitative", "scale": {"domain": [-13, -8], "range": [257, 22], "nice": false, "zero": false}, "axis": null},
            "x": {"datum": 10, "type": "quantitative", "scale": {"domain": [10, 26], "range": [30, 404], "nice": false, "zero": false}, "axis": null},
            "x2": {"datum": 10.25}
          }
        },
        {
          "data": {"name": "tickY"},
          "mark": {"type": "rule", "color": "#000", "strokeWidth": 1.2},
          "encoding": {
            "y": {"field": "v", "type": "quantitative", "scale": {"domain": [-13, -8], "range": [257, 22], "nice": false, "zero": false}, "axis": null},
            "x": {"datum": 26, "type": "quantitative", "scale": {"domain": [10, 26], "range": [30, 404], "nice": false, "zero": false}, "axis": null},
            "x2": {"datum": 25.75}
          }
        },
        {
          "data": {"name": "comps"},
          "mark": {"type": "line", "strokeWidth": 1.1, "interpolate": "monotone"},
          "encoding": {
            "x": {"field": "x", "type": "quantitative", "scale": {"domain": [10, 26], "range": [30, 404], "nice": false, "zero": false}, "axis": null},
            "y": {"field": "y", "type": "quantitative", "scale": {"domain": [-13, -8], "range": [257, 22], "nice": false, "zero": false}, "axis": null},
            "detail": {"field": "comp"},
            "color": {"field": "model", "type": "nominal", "scale": {"domain": ["low","high","A","C","dot"], "range": ["#a8a8a8","#000000","#ffa500","#ff00ff","#000000"]}, "legend": null}
          }
        },
        {
          "data": {"name": "curves"},
          "transform": [{"filter": "datum.model == 'A' || datum.model == 'C'"}],
          "mark": {"type": "line", "strokeWidth": 2.3, "interpolate": "monotone"},
          "encoding": {
            "x": {"field": "x", "type": "quantitative", "scale": {"domain": [10, 26], "range": [30, 404], "nice": false, "zero": false}, "axis": null},
            "y": {"field": "y", "type": "quantitative", "scale": {"domain": [-13, -8], "range": [257, 22], "nice": false, "zero": false}, "axis": null},
            "color": {"field": "model", "type": "nominal", "scale": {"domain": ["low","high","A","C","dot"], "range": ["#a8a8a8","#000000","#ffa500","#ff00ff","#000000"]}, "legend": null}
          }
        },
        {
          "data": {"name": "labels"},
          "mark": {"type": "text", "font": "Liberation Sans", "fontSize": 24, "color": "#000", "align": "center", "baseline": "middle"},
          "encoding": {
            "x": {"field": "x", "type": "quantitative", "scale": {"domain": [10, 26], "range": [30, 404], "nice": false, "zero": false}, "axis": null},
            "y": {"field": "y", "type": "quantitative", "scale": {"domain": [-13, -8], "range": [257, 22], "nice": false, "zero": false}, "axis": null},
            "text": {"field": "label"}
          }
        },
        {
          "data": {"name": "one"},
          "mark": {"type": "rect", "filled": false, "stroke": "#000", "strokeWidth": 2},
          "encoding": {
            "x": {"datum": 10, "type": "quantitative", "scale": {"domain": [10, 26], "range": [30, 404], "nice": false, "zero": false}, "axis": null},
            "x2": {"datum": 26},
            "y": {"datum": -13, "type": "quantitative", "scale": {"domain": [-13, -8], "range": [257, 22], "nice": false, "zero": false}, "axis": null},
            "y2": {"datum": -8}
          }
        }
      ]
    }
  ],
  "resolve": {"scale": {"x": "independent", "y": "independent"}}
}
